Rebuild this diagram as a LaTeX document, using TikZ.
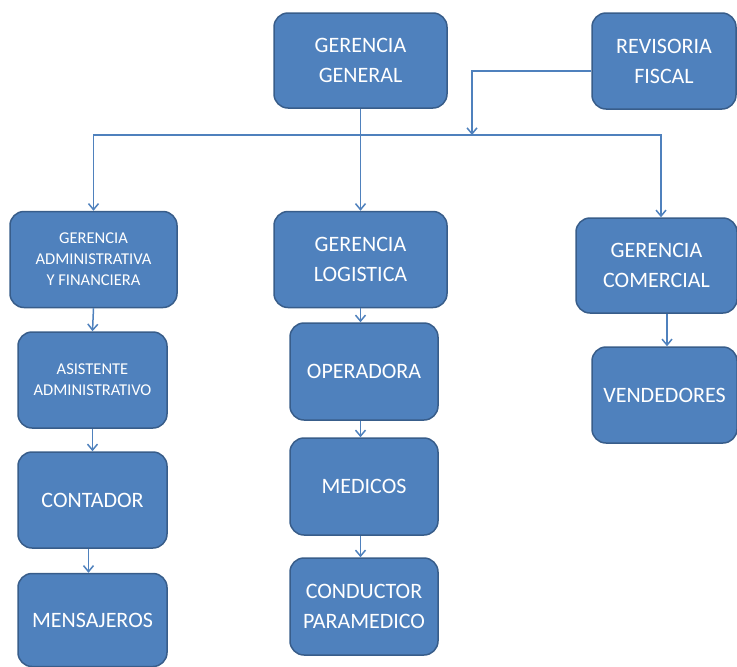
\documentclass[tikz,border=0pt]{standalone}
\usepackage{fontspec}
\setmainfont{Carlito}
\usetikzlibrary{arrows.meta}
\definecolor{boxfill}{RGB}{79,129,189}
\definecolor{boxline}{RGB}{56,93,138}
\definecolor{linkcol}{RGB}{79,129,189}
\tikzset{every picture/.style={line width=0.75pt}}
\tikzset{
  unit/.style={draw=boxline, fill=boxfill, line width=1.5pt, rounded corners=14pt,
    text=white, align=center, inner sep=2pt, font=\fontsize{22}{30}\selectfont},
  smallunit/.style={unit, font=\fontsize{16.5}{21}\selectfont},
  link/.style={draw=linkcol, line width=1.5pt, -{Straight Barb[length=6pt,width=10pt]}}
}

\begin{document}
\begin{tikzpicture}[x=1pt,y=1pt,yscale=-1,xscale=1]
  \useasboundingbox (0,0) rectangle (737,667);

  % top level
  \node [unit, minimum width=173, minimum height=95] (gg) at (360.5,60.5) {GERENCIA\\GENERAL};
  \node [unit, minimum width=144, minimum height=96] (rf) at (664,61) {REVISORIA\\FISCAL};

  % second level
  \node [smallunit, minimum width=167, minimum height=96] (gaf) at (93.5,259.5) {GERENCIA\\ADMINISTRATIVA\\Y FINANCIERA};
  \node [unit, minimum width=173, minimum height=96] (gl) at (360.5,259.5) {GERENCIA\\LOGISTICA};
  \node [unit, minimum width=161, minimum height=95] (gc) at (656.5,265.5) {GERENCIA\\COMERCIAL};

  % left column
  \node [smallunit, minimum width=149, minimum height=96] (aa) at (92.5,380) {ASISTENTE\\ADMINISTRATIVO};
  \node [unit, minimum width=149, minimum height=96] (cont) at (92.5,500) {CONTADOR};
  \node [unit, minimum width=149, minimum height=93] (mens) at (92.5,620) {MENSAJEROS};

  % middle column
  \node [unit, minimum width=148, minimum height=97] (oper) at (364,371.5) {OPERADORA};
  \node [unit, minimum width=148, minimum height=97] (med) at (364,486.5) {MEDICOS};
  \node [unit, minimum width=148, minimum height=97] (cond) at (364,606.5) {CONDUCTOR\\PARAMEDICO};

  % right column
  \node [unit, minimum width=145, minimum height=96] (vend) at (664.5,395) {VENDEDORES};

  % connectors
  \coordinate (bus) at (360,135);
  \coordinate (rfend) at (472,135);
  \draw [link] (gg.south) -- (gl.north);
  \draw [link] (bus) -| (gaf.north);
  \draw [link] (bus) -| ([xshift=4.5pt]gc.north);
  \draw [link] ([yshift=10pt]rf.west) -| (rfend);
  \draw [link] (gaf.south) -- (aa.north);
  \draw [link] (aa.south) -- (cont.north);
  \draw [link] ([xshift=-4pt]cont.south) -- ([xshift=-4pt]mens.north);
  \draw [link] (gl.south) -- (gl.south |- oper.north);
  \draw [link] (oper.south -| gl.south) -- (gl.south |- med.north);
  \draw [link] (med.south -| gl.south) -- (gl.south |- cond.north);
  \draw [link] ([xshift=10.5pt]gc.south) -- ([xshift=10.5pt]gc.south |- vend.north);

\end{tikzpicture}
\end{document}
